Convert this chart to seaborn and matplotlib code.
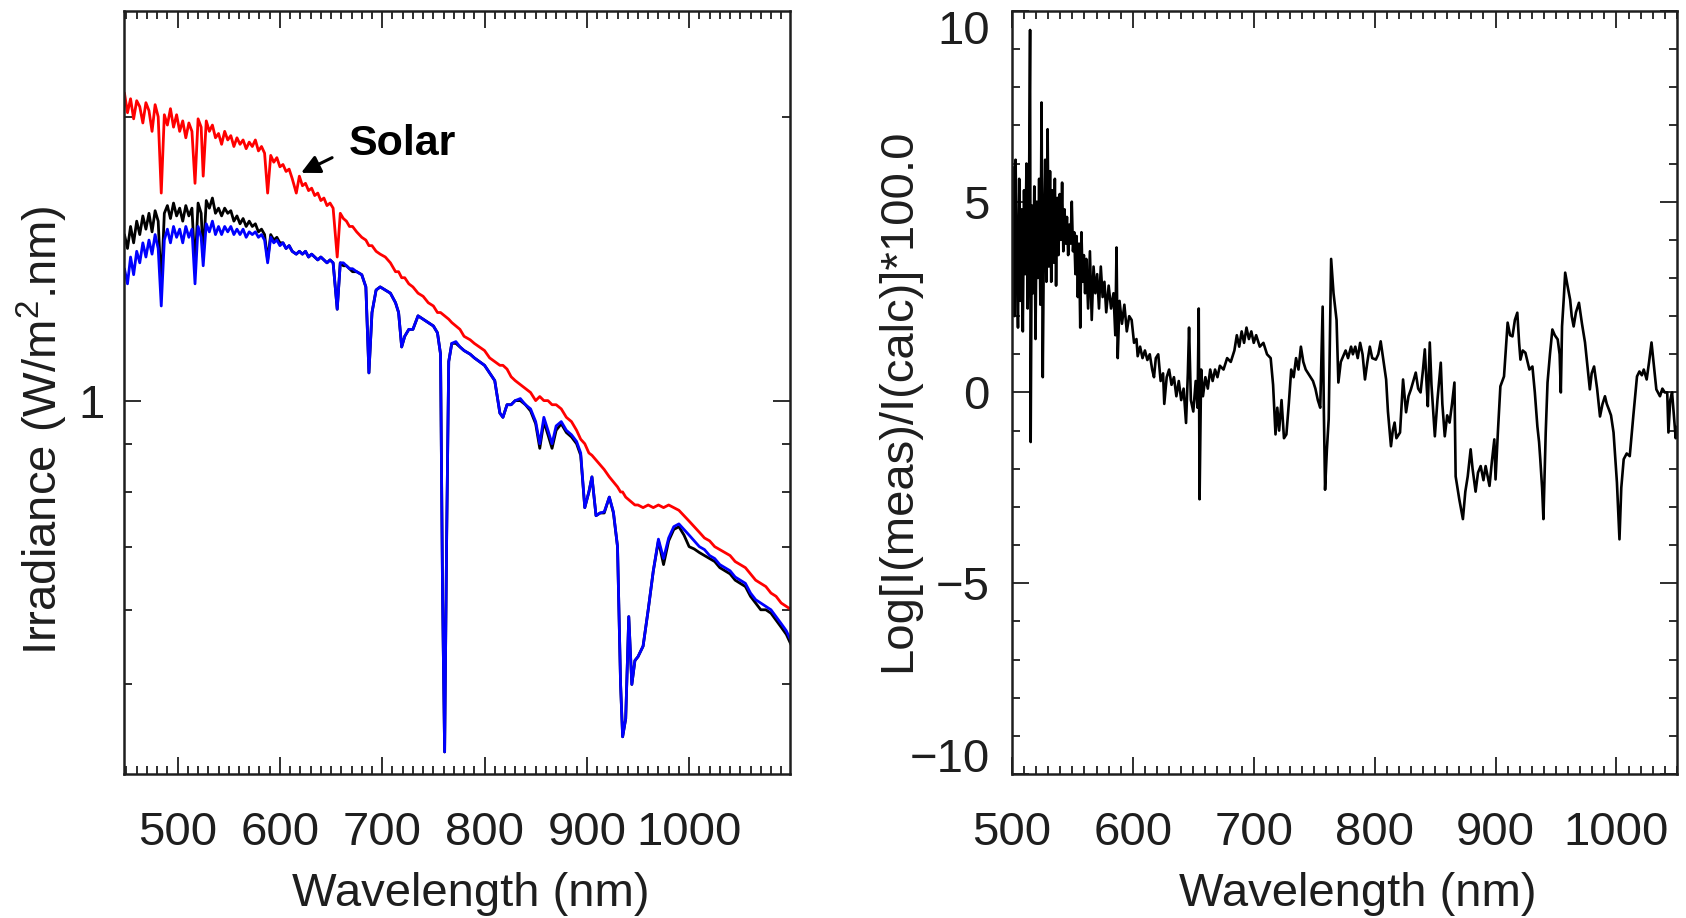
import matplotlib
matplotlib.use("Agg")
import matplotlib.pyplot as plt
from matplotlib.ticker import FixedLocator, FixedFormatter, MultipleLocator, NullFormatter
import pandas as pd
import seaborn as sns

# ---------------- left panel: irradiance spectra (W/m^2/nm) ----------------
wl_left = [
    448, 451, 454, 457, 460, 463, 466, 469, 472, 475, 478, 481,
    484, 487, 490, 493, 496, 499, 502, 505, 508, 511, 514, 517, 520, 523,
    525, 528, 531, 534, 537, 540, 543, 546, 549, 552, 555, 558, 561, 564, 567, 570, 573, 576, 579, 582, 585, 588, 591, 594, 597, 600,
    603, 606, 609, 612, 616, 619, 622, 625, 628, 631, 634, 637, 640, 643, 646, 649, 652, 656, 659, 662, 665, 668, 671, 675, 680,
    684, 687, 690, 694, 698, 703, 708, 713, 716, 719, 722, 726, 730, 735, 740, 745, 750, 754, 757, 759, 761, 763, 765, 768, 772,
    776, 780, 786, 790, 795, 800, 805, 810, 815, 818, 822, 826, 830, 835, 840, 845, 850, 854, 858, 862, 866, 870, 875, 880, 885,
    890, 894, 898, 902, 905, 909, 913, 917, 922, 926, 930, 933, 935, 938, 941, 944, 947, 950, 955, 960, 965, 970, 975, 980, 985,
    990, 995, 1000, 1005, 1010, 1015, 1020, 1025, 1030, 1035, 1040, 1045, 1050, 1055, 1060, 1065, 1070, 1075, 1080, 1085, 1090, 1095, 1100,
]

solar = [
    2.12, 2.02, 2.09, 1.99, 2.08, 2.05, 1.97, 2.07, 2.03, 1.93, 2.06, 2.00,
    1.66, 2.01, 1.96, 2.04, 1.95, 2.01, 1.93, 1.98, 1.90, 1.97, 1.93, 1.70, 1.99, 1.95,
    1.73, 1.98, 1.93, 1.96, 1.90, 1.92, 1.87, 1.93, 1.89, 1.91, 1.86, 1.90, 1.87, 1.89, 1.85, 1.88, 1.86, 1.89, 1.84, 1.86, 1.83, 1.66, 1.82, 1.79, 1.81, 1.77,
    1.78, 1.75, 1.76, 1.72, 1.66, 1.73, 1.69, 1.70, 1.67, 1.68, 1.65, 1.66, 1.63, 1.64, 1.61, 1.62, 1.60, 1.42, 1.58, 1.56, 1.55, 1.53, 1.53, 1.51, 1.49,
    1.48, 1.46, 1.46, 1.44, 1.43, 1.42, 1.40, 1.37, 1.37, 1.35, 1.35, 1.33, 1.32, 1.30, 1.29, 1.27, 1.26, 1.24, 1.24, 1.235, 1.23, 1.225, 1.22, 1.21, 1.20,
    1.19, 1.17, 1.16, 1.15, 1.14, 1.13, 1.11, 1.10, 1.09, 1.09, 1.08, 1.06, 1.05, 1.04, 1.03, 1.02, 1.00, 1.01, 1.00, 1.00, 0.99, 0.99, 0.98, 0.96, 0.95,
    0.93, 0.91, 0.90, 0.88, 0.875, 0.865, 0.855, 0.845, 0.83, 0.82, 0.81, 0.80, 0.80, 0.79, 0.785, 0.78, 0.775, 0.775, 0.77, 0.775, 0.77, 0.775, 0.77, 0.775, 0.77,
    0.765, 0.755, 0.745, 0.735, 0.725, 0.715, 0.71, 0.70, 0.695, 0.69, 0.685, 0.675, 0.67, 0.665, 0.655, 0.645, 0.64, 0.635, 0.625, 0.62, 0.61, 0.605, 0.60,
]

measured = [
    1.50, 1.45, 1.53, 1.47, 1.55, 1.50, 1.57, 1.52, 1.58, 1.51, 1.59, 1.55,
    1.32, 1.58, 1.61, 1.56, 1.62, 1.57, 1.60, 1.55, 1.61, 1.57, 1.60, 1.38, 1.62, 1.58,
    1.42, 1.63, 1.60, 1.64, 1.58, 1.60, 1.57, 1.60, 1.58, 1.59, 1.55, 1.57, 1.54, 1.56, 1.53, 1.55, 1.53, 1.54, 1.51, 1.52, 1.50, 1.41, 1.50, 1.48, 1.49, 1.47,
    1.47, 1.45, 1.46, 1.44, 1.43, 1.44, 1.43, 1.44, 1.42, 1.43, 1.42, 1.41, 1.42, 1.41, 1.40, 1.41, 1.40, 1.25, 1.40, 1.39, 1.39, 1.38, 1.37, 1.37, 1.36,
    1.32, 1.07, 1.24, 1.31, 1.32, 1.31, 1.30, 1.27, 1.24, 1.14, 1.17, 1.19, 1.19, 1.23, 1.22, 1.21, 1.20, 1.18, 1.12, 0.62, 0.424, 0.72, 1.10, 1.15, 1.15,
    1.14, 1.13, 1.12, 1.11, 1.10, 1.09, 1.07, 1.05, 0.97, 0.96, 0.99, 0.99, 1.00, 1.00, 0.99, 0.975, 0.945, 0.89, 0.95, 0.92, 0.89, 0.93, 0.945, 0.925, 0.915,
    0.90, 0.875, 0.77, 0.80, 0.83, 0.755, 0.76, 0.76, 0.79, 0.76, 0.70, 0.50, 0.44, 0.46, 0.59, 0.50, 0.53, 0.535, 0.549, 0.60, 0.66, 0.71, 0.67, 0.71, 0.73,
    0.735, 0.72, 0.70, 0.696, 0.69, 0.685, 0.68, 0.675, 0.665, 0.66, 0.655, 0.645, 0.64, 0.635, 0.62, 0.61, 0.60, 0.60, 0.595, 0.585, 0.575, 0.565, 0.55,
]

modelled = [
    1.38, 1.33, 1.42, 1.36, 1.44, 1.40, 1.47, 1.42, 1.48, 1.43, 1.50, 1.45,
    1.26, 1.48, 1.52, 1.47, 1.53, 1.49, 1.52, 1.47, 1.53, 1.49, 1.52, 1.33, 1.53, 1.49,
    1.39, 1.54, 1.51, 1.55, 1.50, 1.53, 1.50, 1.53, 1.51, 1.53, 1.50, 1.52, 1.50, 1.52, 1.49, 1.51, 1.50, 1.51, 1.49, 1.50, 1.48, 1.40, 1.49, 1.47, 1.48, 1.46,
    1.47, 1.45, 1.46, 1.44, 1.43, 1.44, 1.43, 1.44, 1.42, 1.43, 1.42, 1.41, 1.42, 1.41, 1.40, 1.41, 1.40, 1.25, 1.40, 1.40, 1.39, 1.38, 1.38, 1.37, 1.36,
    1.32, 1.07, 1.24, 1.31, 1.32, 1.31, 1.30, 1.27, 1.24, 1.14, 1.17, 1.19, 1.19, 1.23, 1.22, 1.21, 1.20, 1.18, 1.12, 0.62, 0.424, 0.72, 1.10, 1.15, 1.155,
    1.14, 1.13, 1.12, 1.11, 1.10, 1.09, 1.07, 1.05, 0.97, 0.96, 0.99, 0.99, 1.00, 1.005, 0.99, 0.98, 0.95, 0.90, 0.96, 0.93, 0.90, 0.94, 0.95, 0.93, 0.92,
    0.905, 0.88, 0.77, 0.80, 0.83, 0.755, 0.76, 0.762, 0.79, 0.762, 0.70, 0.50, 0.44, 0.46, 0.59, 0.50, 0.53, 0.535, 0.549, 0.60, 0.66, 0.713, 0.68, 0.715, 0.735,
    0.74, 0.73, 0.72, 0.71, 0.70, 0.695, 0.685, 0.68, 0.67, 0.665, 0.66, 0.65, 0.645, 0.64, 0.625, 0.615, 0.61, 0.605, 0.60, 0.59, 0.58, 0.57, 0.555,
]

# ---------------- right panel: log ratio measured / calculated (x100) ----------------
wl_right = [
    500, 501, 502, 503, 504, 505, 506, 507, 508, 509,
    510, 511, 512, 513, 514, 515, 515.5, 516.5, 517.5, 518.5,
    519.5, 520.5, 521.5, 522.5, 523.5, 524.5, 525.5, 526.5, 527.5, 528.5,
    529.5, 530.5, 531.5, 532.5, 533.5, 534.5, 535.5, 536.5, 537.5, 538.5,
    539.5, 540.5, 541.5, 542.5, 543.5, 544.5, 545.5, 546.5, 547.5, 548.5,
    549.5, 550.5, 551.5, 552.5, 553.5, 554.5, 555.5, 556.5, 557.5, 558.5,
    559.5, 560.5, 561.5, 563, 564.5, 566, 567.5, 569, 570.5, 572,
    573.5, 575, 576.5, 578, 580, 582, 584, 585.5, 586.5, 587.5,
    589, 591, 593, 595, 597, 599, 601, 603, 604, 606,
    608, 610, 612, 614, 616, 617.5, 619, 621, 623, 625,
    626, 628, 630, 632, 634, 636, 638, 640, 642, 644,
    645.5, 646.5, 648, 650, 652, 653.5, 654.5, 655.2, 656.5, 658,
    660, 662, 664, 666, 668, 670, 672, 675, 678, 681,
    684, 686, 688, 690, 692, 694, 696, 698, 700, 702,
    705, 708, 711, 714, 716, 718, 719.5, 721, 723, 725,
    727, 729, 731, 733, 735, 737, 739, 741, 743, 745,
    747, 749, 751, 753, 755, 757, 758, 759, 760.5, 762,
    764, 766, 768.5, 770, 772, 774, 776, 778, 780.5, 782,
    784, 786, 788, 790, 792, 794, 796, 798, 801, 803,
    805, 807, 809.5, 811, 813.5, 815, 816.5, 818, 821, 823.5,
    826, 828, 830, 832, 834, 836, 838, 840, 841.5, 843,
    844, 845.6, 847, 849.8, 852, 854.7, 856, 858, 860, 862,
    864, 866, 867, 870, 873, 875, 877, 879.4, 881, 883.5,
    885.5, 887.7, 890, 891.8, 893.5, 895, 897, 899, 900, 902,
    904, 907, 910, 912, 914, 916, 918, 919.5, 920.6, 922.5,
    924.7, 926.5, 928, 930.5, 932.5, 934.6, 936, 937, 938.5, 939.6,
    941.5, 943, 945, 947, 949, 951.4, 953, 954, 955, 956.5,
    957.6, 959.5, 961.7, 963, 964.6, 966.5, 969, 971.5, 974, 976,
    978, 979.5, 981.5, 984, 986.4, 988.5, 990.5, 992, 993.8, 995.5,
    997.6, 999, 1000.4, 1002.5, 1004, 1006, 1008.5, 1011, 1014, 1017,
    1019, 1021, 1022.6, 1025, 1027, 1029, 1031, 1033, 1036, 1038,
    1040, 1042, 1043, 1044.5, 1046, 1047.5, 1049, 1050,
]

log_ratio = [
    3.2, 5.9, 2.0, 6.1, 3.5, 1.7, 5.6, 2.4, 4.8, 1.6,
    5.3, 3.1, 6.0, 2.2, 4.5, 9.5, -1.3, 4.9, 2.6, 5.4,
    1.4, 5.0, 3.0, 5.6, 2.3, 7.6, 0.4, 4.2, 6.1, 2.9,
    6.9, 3.3, 5.8, 2.9, 5.3, 3.4, 5.6, 2.8, 5.1, 3.6,
    5.2, 4.0, 5.5, 3.7, 4.8, 3.9, 4.6, 3.6, 4.4, 3.9,
    5.0, 3.7, 4.2, 3.1, 4.1, 2.5, 3.9, 1.7, 4.2, 2.9,
    3.6, 2.6, 3.5, 2.2, 3.7, 1.9, 3.3, 2.6, 3.1, 2.2,
    3.3, 2.5, 2.9, 2.1, 2.8, 2.2, 2.6, 1.5, 3.8, 0.9,
    2.4, 1.8, 2.3, 1.6, 2.0, 1.9, 1.3, 1.4, 0.95, 1.2,
    0.9, 1.1, 0.85, 1.0, 0.6, 0.4, 0.9, 1.0, 0.3, 0.5,
    -0.3, 0.4, 0.6, 0.2, 0.4, -0.1, 0.3, -0.2, 0.1, -0.8,
    0.5, 1.7, -0.2, -0.5, 0.3, -0.4, 2.2, -2.8, 0.6, -0.1,
    0.4, 0.1, 0.6, 0.3, 0.6, 0.4, 0.7, 0.6, 0.9, 0.8,
    1.1, 1.5, 1.2, 1.6, 1.3, 1.7, 1.4, 1.6, 1.3, 1.5,
    1.2, 1.3, 1.0, 0.9, 0.2, -1.1, -0.4, -1.0, -0.2, -1.2,
    -1.1, -0.3, 0.6, 0.4, 0.9, 0.6, 1.2, 0.8, 0.6, 0.5,
    0.4, 0.3, 0.1, -0.2, -0.4, 2.25, -0.5, -2.55, -1.5, -0.7,
    3.5, 2.6, 1.9, 0.26, 0.8, 0.95, 1.1, 0.9, 1.2, 1.0,
    1.2, 0.9, 1.3, 1.0, 0.34, 0.8, 1.2, 0.9, 0.86, 1.0,
    1.34, 0.9, 0.34, -0.5, -1.41, -1.0, -0.79, -1.2, -1.05, 0.34,
    -0.52, -0.1, 0.08, 0.3, 0.52, 0.1, 0.0, 0.6, 1.13, 0.2,
    -0.36, 1.31, 0.2, -1.15, -0.18, 0.78, -0.3, -1.15, -0.6, -0.79,
    -0.3, 0.26, -2.2, -2.8, -3.32, -2.6, -2.2, -1.49, -2.0, -2.6,
    -2.1, -1.93, -2.3, -1.93, -2.2, -2.45, -1.8, -1.23, -2.28, -1.0,
    0.16, 0.42, 1.83, 1.5, 1.47, 1.9, 2.09, 1.3, 0.86, 1.1,
    1.04, 0.8, 0.6, 0.68, 0.0, -0.89, -1.3, -1.75, -2.5, -3.32,
    -1.05, 0.26, 1.0, 1.65, 1.5, 1.39, 1.0, 0.0, 1.73, 2.5,
    3.14, 2.8, 2.43, 2.0, 1.73, 2.1, 2.35, 1.8, 1.31, 0.7,
    0.08, 0.5, 0.68, 0.1, -0.63, -0.3, -0.1, -0.3, -0.45, -0.6,
    -1.05, -1.7, -2.36, -3.85, -2.5, -1.75, -1.6, -1.67, -0.6, 0.42,
    0.55, 0.45, 0.6, 0.34, 0.8, 1.31, 0.7, 0.08, -0.1, 0.1,
    0.0, 0.0, -1.05, -0.2, 0.0, -0.6, -1.2, -0.9,
]

irr_ticks_major = [1.0]
irr_ticks_minor = [0.5, 0.6, 0.7, 0.8, 0.9, 2.0]
ratio_ticks_inner = [-5, 0, 5]
ratio_ticks_edge = [-10, 10]

# ---------------- styling ----------------
sns.set_theme(style="white")
plt.rcParams["font.family"] = ["Liberation Sans", "DejaVu Sans"]
plt.rcParams["mathtext.fontset"] = "custom"
plt.rcParams["mathtext.rm"] = "Liberation Sans"
plt.rcParams["mathtext.it"] = "Liberation Sans:italic"
plt.rcParams["mathtext.default"] = "regular"

INK = "#1e1e1e"
FS = 34

fig = plt.figure(figsize=(16.86, 9.18), dpi=100)
ax1 = fig.add_axes([0.0738, 0.1569, 0.3947, 0.8312])
ax2 = fig.add_axes([0.6002, 0.1569, 0.3944, 0.8312])

spec = pd.DataFrame({"wl": wl_left, "solar": solar, "measured": measured, "modelled": modelled})
ratio = pd.DataFrame({"wl": wl_right, "ratio": log_ratio})

sns.lineplot(data=spec, x="wl", y="solar", ax=ax1, color="#ff0000", lw=2.0,
             sort=False, estimator=None)
sns.lineplot(data=spec, x="wl", y="measured", ax=ax1, color="black", lw=2.0,
             sort=False, estimator=None)
sns.lineplot(data=spec, x="wl", y="modelled", ax=ax1, color="#0000ff", lw=2.0,
             sort=False, estimator=None)
sns.lineplot(data=ratio, x="wl", y="ratio", ax=ax2, color="black", lw=1.9,
             sort=False, estimator=None)

# left axes: log irradiance
ax1.set_yscale("log")
ax1.set_xlim(448, 1098.5)
ax1.set_ylim(0.4018, 2.59)
ax1.yaxis.set_major_locator(FixedLocator(irr_ticks_major))
ax1.yaxis.set_major_formatter(FixedFormatter(["1"]))
ax1.yaxis.set_minor_locator(FixedLocator(irr_ticks_minor))
ax1.yaxis.set_minor_formatter(NullFormatter())

# right axes: linear ratio; the end labels sit just inside the frame
ax2.set_xlim(500, 1050)
ax2.set_ylim(-10, 10)
ax2.yaxis.set_major_locator(FixedLocator(ratio_ticks_inner + ratio_ticks_edge))
ax2.yaxis.set_major_formatter(
    FixedFormatter(["\u22125", "0", "5", "", ""]))
ax2.yaxis.set_minor_locator(MultipleLocator(1))
for val, dy in zip(ratio_ticks_edge, (10, -15)):
    ax2.annotate(f"{val}".replace("-", "\u2212"), xy=(0, val),
                 xycoords=("axes fraction", "data"),
                 xytext=(-16, dy), textcoords="offset points",
                 ha="right", va="center", fontsize=FS, color=INK)

for ax in (ax1, ax2):
    ax.xaxis.set_major_locator(MultipleLocator(100))
    ax.xaxis.set_minor_locator(MultipleLocator(10))
    for s in ax.spines.values():
        s.set_linewidth(1.8)
        s.set_color(INK)
        s.set_visible(True)
    ax.tick_params(which="both", direction="in", top=True, right=True,
                   bottom=True, left=True, width=1.3, color=INK,
                   labelcolor=INK, labelsize=FS)
    ax.tick_params(which="major", length=12)
    ax.tick_params(which="minor", length=6)
    ax.tick_params(axis="x", pad=27)
    ax.set_xlabel("Wavelength (nm)", fontsize=FS, color=INK)
    ax.xaxis.set_label_coords(0.52, -0.128)
    ax.xaxis.label.set_va("top")
    ax.grid(False)

ax1.tick_params(axis="y", pad=14)
ax2.tick_params(axis="y", pad=16)

ax1.set_ylabel("Irradiance (W/m$^{2}$.nm)", fontsize=FS, color=INK)
ax1.yaxis.set_label_coords(-0.082, 0.451)
ax2.set_ylabel("Log[I(meas)/I(calc)]*100.0", fontsize=FS, color=INK)
ax2.yaxis.set_label_coords(-0.138, 0.49)

# label for the extraterrestrial spectrum
ax1.text(667, 1.87, "Solar", fontsize=31, fontweight="bold", color="black",
         ha="left", va="center")
ax1.annotate("", xy=(620.7, 1.744), xytext=(651, 1.81),
             arrowprops=dict(arrowstyle="-|>", color="black", lw=2.2,
                             mutation_scale=28, shrinkA=0, shrinkB=0))

fig.savefig("out.png", dpi=100)
